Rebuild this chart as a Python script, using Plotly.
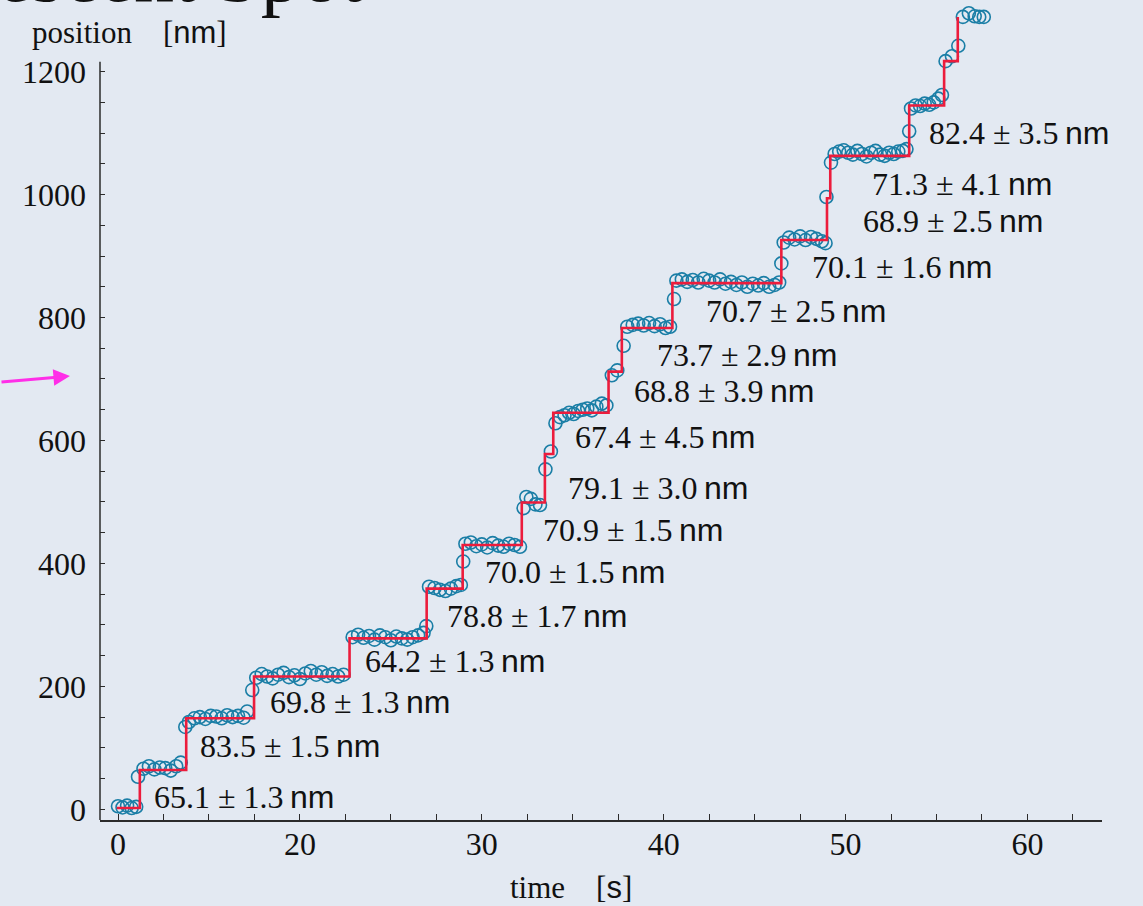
import plotly.graph_objects as go

# ---------------- data ----------------
time_s = [
    10.0, 10.25, 10.5, 10.75, 11.0, 11.1,
    11.4, 11.7, 12.0, 12.3, 12.6, 12.9, 13.2, 13.45, 13.7,
    13.9, 14.2, 14.5, 14.8, 15.1, 15.4, 15.7, 16.0, 16.3, 16.6, 16.9, 17.1, 17.38,
    17.6, 17.9, 18.2, 18.5, 18.8, 19.1, 19.4, 19.7, 20.0, 20.3, 20.6, 20.9, 21.2, 21.5, 21.8, 22.1, 22.4,
    22.9, 23.2, 23.5, 23.8, 24.1, 24.4, 24.7, 25.0, 25.3, 25.6, 25.9, 26.2, 26.5, 26.8, 26.95,
    27.1, 27.4, 27.7, 28.0, 28.3, 28.6, 28.85, 28.98,
    29.1, 29.4, 29.7, 30.0, 30.3, 30.6, 30.9, 31.2, 31.5, 31.8, 32.1, 32.3,
    32.45, 32.7, 32.95, 33.2, 33.5, 33.8,
    34.05, 34.3, 34.55, 34.8, 35.05, 35.3, 35.55, 35.8, 36.05, 36.3, 36.6, 36.85,
    37.15, 37.45, 37.8,
    38.0, 38.3, 38.6, 38.9, 39.2, 39.5, 39.8, 40.1, 40.35, 40.57,
    40.7, 41.0, 41.3, 41.6, 41.9, 42.2, 42.5, 42.8, 43.1, 43.4, 43.7, 44.0, 44.3, 44.6, 44.9,
    45.2, 45.5, 45.8, 46.1, 46.35, 46.47,
    46.6, 46.9, 47.2, 47.5, 47.8, 48.1, 48.4, 48.7, 48.9, 48.95,
    49.2, 49.4, 49.65, 49.9, 50.15, 50.4, 50.65, 50.9, 51.15, 51.4, 51.65, 51.9, 52.15, 52.4,
    52.65, 52.9, 53.15, 53.35, 53.5,
    53.6, 53.85, 54.1, 54.35, 54.6, 54.85, 55.1, 55.3,
    55.5, 55.85, 56.2,
    56.45, 56.78, 57.1, 57.35, 57.6,
]
position_nm = [
    5, 3, 6, 2, 4, 53,
    66, 70, 65, 68, 67, 63, 70, 76, 134,
    142, 148, 150, 147, 152, 151, 148, 153, 150, 152, 149, 159, 194,
    214, 220, 216, 213, 219, 222, 215, 218, 212, 221, 225, 219, 223, 217, 220, 216, 219,
    280, 284, 279, 282, 276, 283, 280, 275, 281, 278, 276, 280, 283, 287, 298,
    362, 360, 357, 355, 359, 363, 365, 403,
    432, 434, 428, 431, 426, 433, 429, 427, 432, 430, 427, 490,
    508, 505, 496, 495, 553, 582,
    628, 638, 641, 645, 643, 648, 650, 652, 649, 655, 660, 657,
    706, 714, 754,
    785, 788, 790, 787, 791, 786, 789, 783, 785, 830,
    860, 862, 858, 861, 857, 863, 860, 857, 862, 855, 858, 853, 857, 850, 855,
    852, 856, 850, 853, 857, 888,
    922, 930, 927, 932, 926, 931, 928, 924, 921, 996,
    1052, 1066, 1070, 1072, 1068, 1065, 1071, 1066, 1062, 1068, 1071, 1065, 1063, 1068,
    1066, 1070, 1071, 1074, 1103,
    1140, 1145, 1144, 1148, 1146, 1150, 1156, 1162,
    1217, 1225, 1242,
    1289, 1295, 1290, 1289, 1289,
]

# step fit: start time of each plateau and its level
fit_time_s = [9.93, 11.2, 13.75, 17.48, 22.73, 26.97, 28.95, 32.2, 33.47, 33.93,
              36.97, 37.7, 40.48, 46.47, 48.98, 49.16, 53.5, 55.42, 56.17]
fit_level_nm = [2, 64, 148, 216, 278, 359, 430, 499, 578, 645,
                712, 783, 856, 926, 994, 1063, 1145, 1217, 1289]

step_sizes = ["65.1", "83.5", "69.8", "64.2", "78.8", "70.0", "70.9", "79.1", "67.4",
              "68.8", "73.7", "70.7", "70.1", "68.9", "71.3", "82.4"]
step_errors = ["1.3", "1.5", "1.3", "1.3", "1.7", "1.5", "1.5", "3.0", "4.5",
               "3.9", "2.9", "2.5", "1.6", "2.5", "4.1", "3.5"]

x_tickvals = [10, 12.5, 15, 17.5, 20, 22.5, 25, 27.5, 30, 32.5, 35, 37.5, 40, 42.5,
              45, 47.5, 50, 52.5, 55, 57.5, 60, 62.5]
x_ticktext = ["0", "", "", "", "20", "", "", "", "30", "", "", "", "40", "",
              "", "", "50", "", "", "", "60", ""]
y_tickvals = [0, 50, 100, 150, 200, 250, 300, 350, 400, 450, 500, 550, 600,
              650, 700, 750, 800, 850, 900, 950, 1000, 1050, 1100, 1150, 1200]
y_ticktext = ["0", "", "", "", "200", "", "", "", "400", "", "", "", "600",
              "", "", "", "800", "", "", "", "1000", "", "", "", "1200"]

# label placement (layout, not data)
label_x = [11.87, 14.40, 18.25, 23.47, 27.98, 30.07, 33.25, 34.63, 35.01,
           38.26, 39.52, 42.22, 48.04, 50.85, 51.34, 54.48]
label_y = [20, 103, 175, 241, 314, 386, 454, 522, 605,
           680, 739, 811, 882, 957, 1017, 1100]

# ---------------- styling ----------------
SERIF = "Liberation Serif"
SANS = "Liberation Sans"
BG = "#e3e9f2"
AX = "#2b2b2b"
TXT = "#111111"

fig = go.Figure()
fig.add_trace(go.Scatter(
    x=time_s, y=position_nm, mode="markers",
    marker=dict(symbol="circle-open", size=13, color="#1a7ea6",
                line=dict(width=1.6, color="#1a7ea6")),
    cliponaxis=False, showlegend=False, hoverinfo="skip",
))
fig.add_trace(go.Scatter(
    x=fit_time_s, y=fit_level_nm, mode="lines",
    line=dict(shape="hv", color="#ec1c3c", width=2.6),
    showlegend=False, hoverinfo="skip",
))

annotations = []
for s, e, lx, ly in zip(step_sizes, step_errors, label_x, label_y):
    annotations.append(dict(
        x=lx, y=ly, xref="x", yref="y", xanchor="left", yanchor="middle",
        text=f"{s} ± {e}&#8201;<span style=\"font-family:{SANS}\">nm</span>",
        showarrow=False, font=dict(family=SERIF, size=32, color=TXT),
    ))

# axis titles
annotations.append(dict(
    x=-0.0699, y=0.9645, xref="paper", yref="paper", xanchor="left", yanchor="middle",
    text=f"position&#8195;[<span style=\"font-family:{SANS}\">nm</span>]",
    showarrow=False, font=dict(family=SERIF, size=31, color=TXT),
))
annotations.append(dict(
    x=0.407, y=-0.0833, xref="paper", yref="paper", xanchor="left", yanchor="middle",
    text=f"time&#8195;[<span style=\"font-family:{SANS}\">s</span>]",
    showarrow=False, font=dict(family=SERIF, size=31, color=TXT),
))
# slide title fragment, cut off at the top edge (as in the reference)
annotations.append(dict(
    x=0.2645, y=1.0362, xref="paper", yref="paper", xanchor="right", yanchor="middle",
    text="Fluorescent Spot", showarrow=False,
    font=dict(family=SERIF, size=80, color=TXT),
))
# magenta pointer arrow
annotations.append(dict(
    x=-0.03, y=0.544, xref="paper", yref="paper", text="",
    showarrow=True, ax=-74, ay=6, arrowhead=2, arrowsize=1.1, arrowwidth=3,
    arrowcolor="#ff2ee8",
))

fig.update_layout(
    width=1143, height=906,
    margin=dict(l=100, r=41, t=4, b=86),
    paper_bgcolor=BG, plot_bgcolor=BG,
    annotations=annotations,
    shapes=[dict(type="line", xref="paper", yref="y", x0=0, x1=0, y0=-17.4, y1=1216,
                 line=dict(color=AX, width=1.5), layer="above")],
    xaxis=dict(
        range=[9.01, 64.10], showgrid=False, zeroline=False,
        showline=True, linecolor=AX, linewidth=1.5,
        ticks="inside", ticklen=6, tickwidth=1.3, tickcolor=AX,
        tickmode="array", tickvals=x_tickvals, ticktext=x_ticktext,
        tickfont=dict(family=SERIF, size=32, color=TXT),
        ticklabelstandoff=-5,
    ),
    yaxis=dict(
        range=[-17.4, 1310], showgrid=False, zeroline=False, showline=False,
        ticks="inside", ticklen=5, tickwidth=1.3, tickcolor=AX,
        tickmode="array", tickvals=y_tickvals, ticktext=y_ticktext,
        tickfont=dict(family=SERIF, size=32, color=TXT),
        ticklabelstandoff=13,
    ),
)

fig.write_html(
    "out.html",
    config={"displayModeBar": False},
    post_script="document.body.style.margin='0';document.body.style.background='%s';" % BG,
)
